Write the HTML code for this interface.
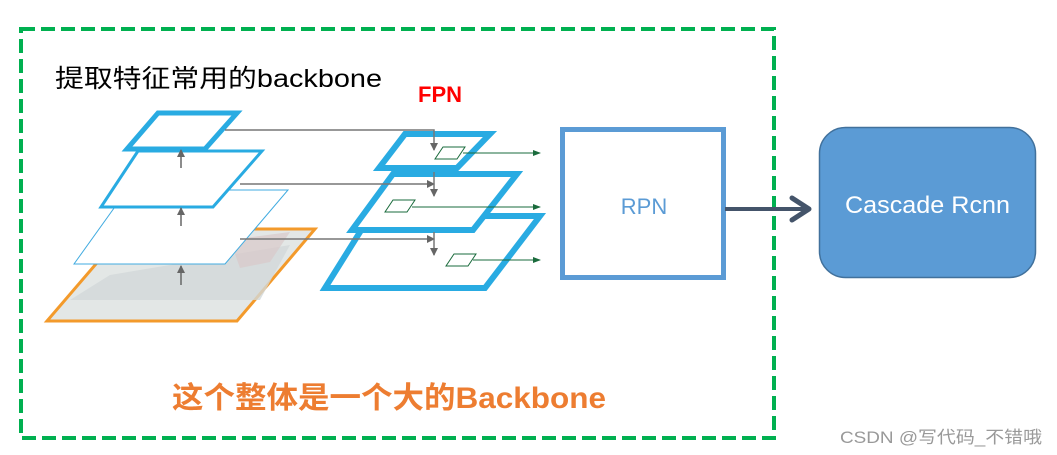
<!DOCTYPE html>
<html><head><meta charset="utf-8"><style>
html,body{margin:0;padding:0;background:#fff;width:1057px;height:455px;overflow:hidden}
svg{display:block}
</style></head><body>
<svg width="1057" height="455" viewBox="0 0 1057 455" xmlns="http://www.w3.org/2000/svg">
<defs>
<marker id="ga" markerWidth="8" markerHeight="8" refX="7" refY="4" orient="auto" markerUnits="userSpaceOnUse"><path d="M0,0 L8,4 L0,8 Z" fill="#666"/></marker>
<marker id="gr" markerWidth="8" markerHeight="6" refX="7" refY="3" orient="auto" markerUnits="userSpaceOnUse"><path d="M0,0 L8,3 L0,6 Z" fill="#1a6b3c"/></marker>
</defs>
<rect x="21" y="29" width="753" height="409" fill="none" stroke="#00b050" stroke-width="4" stroke-dasharray="14,6"/>
<text x="55" y="87" textLength="327" lengthAdjust="spacingAndGlyphs" font-family="Liberation Sans, Noto Sans CJK SC, sans-serif" font-size="25" fill="#000">提取特征常用的backbone</text>
<text x="418" y="102" font-family="Liberation Sans, sans-serif" font-size="22" font-weight="bold" fill="#ff0000">FPN</text>
<!-- orange image layer -->
<polygon points="126,229 315,229 237,321 47,321" fill="#e3e7e6" stroke="#f39a2b" stroke-width="3"/>
<polygon points="110,275 290,245 260,300 70,300" fill="#d2d8da" opacity="0.8"/>
<polygon points="230,240 290,232 270,262 240,268" fill="#d9c9c9" opacity="0.7"/>
<!-- thin layer -->
<polygon points="127,190 288,190 225,264 74,264" fill="#fff" stroke="#41abe0" stroke-width="1"/>
<!-- second -->
<polygon points="138,151 262,151 213,207 101,207" fill="#fff" stroke="#29abe2" stroke-width="3"/>
<!-- top -->
<polygon points="158,113 237,113 205,149 127,149" fill="#fff" stroke="#29abe2" stroke-width="5"/>
<!-- up arrows -->
<g stroke="#666" stroke-width="1.5" marker-end="url(#ga)">
<line x1="181" y1="285" x2="181" y2="266"/>
<line x1="181" y1="226" x2="181" y2="208"/>
<line x1="181" y1="168" x2="181" y2="150"/>
</g>
<!-- FPN layers -->
<polygon points="370,216 540,216 485,288 325,288" fill="none" stroke="#29abe2" stroke-width="6"/>
<polygon points="393,174 517,174 473,230 352,230" fill="#fff" stroke="#29abe2" stroke-width="6"/>
<polygon points="405,134 490,134 457,168 379,168" fill="#fff" stroke="#29abe2" stroke-width="6"/>
<!-- gray connectors -->
<g stroke="#777" stroke-width="1.5" fill="none">
<polyline points="225,130 434,130 434,150" marker-end="url(#ga)"/>
<line x1="240" y1="184" x2="434" y2="184" marker-end="url(#ga)"/>
<line x1="240" y1="239" x2="434" y2="239" marker-end="url(#ga)"/>
<line x1="434" y1="172" x2="434" y2="196" marker-end="url(#ga)"/>
<line x1="434" y1="232" x2="434" y2="255" marker-end="url(#ga)"/>
</g>
<!-- green small parallelograms -->
<g stroke="#1a6b3c" stroke-width="1" fill="none">
<polygon points="443,147 465,147 457,159 435,159"/>
<polygon points="393,200 415,200 407,212 385,212"/>
<polygon points="454,254 476,254 468,266 446,266"/>
<line x1="463" y1="153" x2="540" y2="153" marker-end="url(#gr)"/>
<line x1="412" y1="207" x2="540" y2="207" marker-end="url(#gr)"/>
<line x1="473" y1="260" x2="540" y2="260" marker-end="url(#gr)"/>
</g>
<!-- RPN -->
<rect x="562.5" y="129.5" width="161" height="148" fill="#fff" stroke="#5b9bd5" stroke-width="5"/>
<text x="644" y="214" text-anchor="middle" font-family="Liberation Sans, sans-serif" font-size="22" fill="#5b9bd5">RPN</text>
<!-- arrow -->
<line x1="725" y1="209" x2="808" y2="209" stroke="#44546a" stroke-width="4"/>
<polyline points="792,198 809,209 792,220" fill="none" stroke="#44546a" stroke-width="5" stroke-linecap="round" stroke-linejoin="round"/>
<!-- Cascade -->
<rect x="819.5" y="127.5" width="216" height="150" rx="26" fill="#5b9bd5" stroke="#41719c" stroke-width="1.5"/>
<text x="845" y="213" textLength="165" lengthAdjust="spacingAndGlyphs" font-family="Liberation Sans, sans-serif" font-size="24" fill="#fff">Cascade Rcnn</text>
<text x="172" y="408" textLength="434" lengthAdjust="spacingAndGlyphs" font-family="Liberation Sans, Noto Sans CJK SC, sans-serif" font-size="30" font-weight="bold" fill="#ed7d31">这个整体是一个大的Backbone</text>
<text x="840" y="443" textLength="202" lengthAdjust="spacingAndGlyphs" font-family="Liberation Sans, Noto Sans CJK SC, sans-serif" font-size="17" fill="#999">CSDN @写代码_不错哦</text>
</svg>
</body></html>
